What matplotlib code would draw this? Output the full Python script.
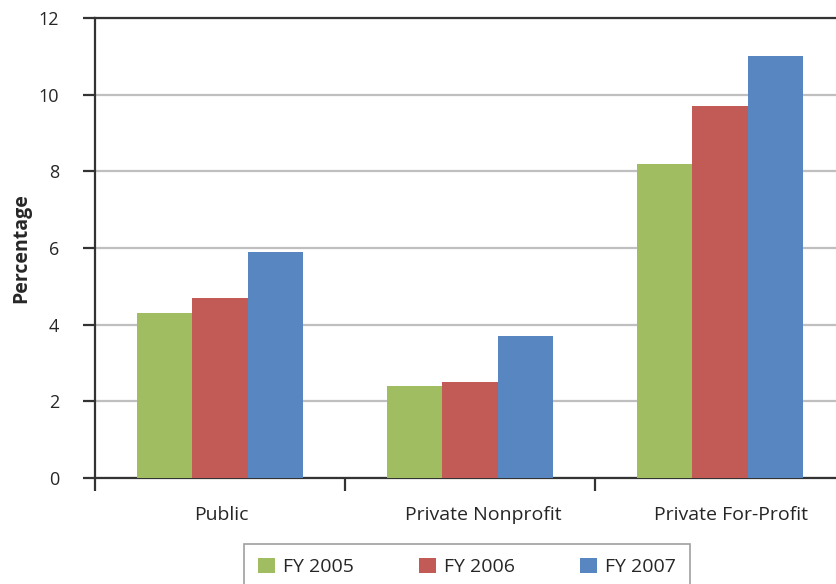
import matplotlib
matplotlib.use("Agg")
import matplotlib.pyplot as plt
import matplotlib.transforms as mtransforms
import numpy as np

categories = ["Public", "Private Nonprofit", "Private For-Profit"]
series_names = ["FY 2005", "FY 2006", "FY 2007"]
fy2005 = [4.3, 2.4, 8.2]
fy2006 = [4.7, 2.5, 9.7]
fy2007 = [5.9, 3.7, 11.0]
colors = ["#A0BD62", "#C25A56", "#5886C1"]
y_ticks = [0, 2, 4, 6, 8, 10, 12]

plt.rcParams["font.family"] = ["Open Sans", "DejaVu Sans"]

W, H = 836, 584
fig = plt.figure(figsize=(W / 100, H / 100), dpi=100)
# axes box in pixels: left 95, right 845 (runs past the canvas), top 18, bottom 478
left, right, top, bottom = 95, 845, 18, 478
ax = fig.add_axes([left / W, 1 - bottom / H, (right - left) / W, (bottom - top) / H])

x = np.arange(len(categories))
bw = 0.222
for i, (vals, c, name) in enumerate(zip([fy2005, fy2006, fy2007], colors, series_names)):
    ax.bar(x + (i - 1) * bw, vals, width=bw, color=c, label=name, zorder=3, linewidth=0)

ax.set_xlim(-0.5, len(categories) - 0.5)
ax.set_ylim(0, 12)
ax.set_yticks(y_ticks)
ax.set_yticklabels([str(v) for v in y_ticks], fontsize=13, color="#262626")
ax.yaxis.grid(True, color="#BFBFBF", linewidth=1.6, zorder=0)
ax.set_axisbelow(True)

ax.set_xticks(x)
ax.set_xticklabels(categories, fontsize=14, color="#262626")
ax.tick_params(axis="x", length=0, pad=20)
# nudge the category labels slightly right of their group centres
label_shift_px = [1.5, 13, 11]
for lbl, dx in zip(ax.get_xticklabels(), label_shift_px):
    lbl.set_transform(lbl.get_transform() + mtransforms.ScaledTranslation(dx / 100, 0, fig.dpi_scale_trans))
ax.set_xticks(np.arange(len(categories) + 1) - 0.5, minor=True)
ax.tick_params(axis="x", which="minor", length=9, width=1.6, color="#333333", direction="out")
ax.tick_params(axis="y", length=9, width=1.6, color="#333333", direction="out", pad=17)

for s in ["left", "bottom", "top"]:
    ax.spines[s].set_color("#333333")
    ax.spines[s].set_linewidth(1.6)
ax.spines["right"].set_visible(False)

fig.text(21 / W, 1 - 248 / H, "Percentage", rotation=90, ha="center", va="center",
         fontsize=14, fontweight="bold", color="#262626")

leg = fig.legend(loc="upper left", bbox_to_anchor=(244 / W, 1 - 544 / H), ncol=3,
                 frameon=True, fancybox=False, fontsize=14, handlelength=0.88,
                 handleheight=0.88, columnspacing=3.3, handletextpad=0.45,
                 borderpad=0.7, borderaxespad=0, labelcolor="#262626")
leg.get_frame().set_edgecolor("#888888")
leg.get_frame().set_linewidth(1.2)

fig.savefig("out.png", dpi=100)
